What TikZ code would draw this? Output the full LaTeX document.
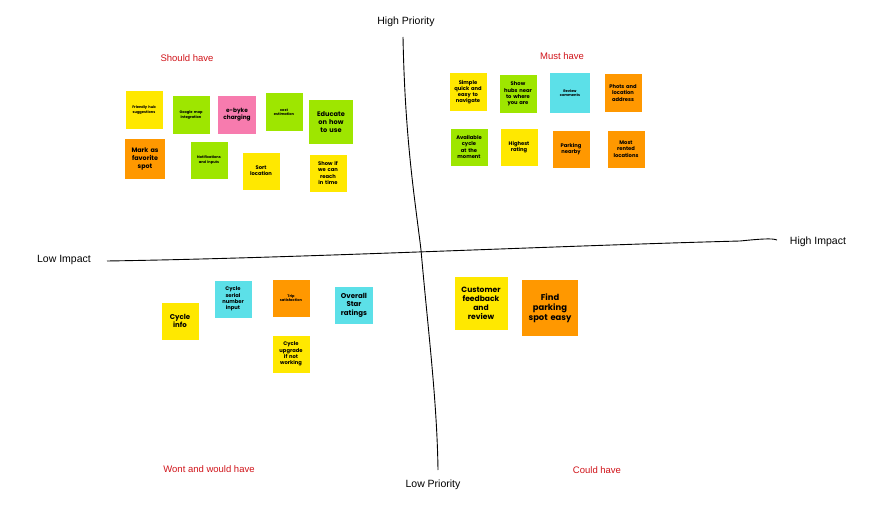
\documentclass[tikz,border=0pt]{standalone}
\usepackage{fontspec}
\usepackage[none]{hyphenat}
\setmainfont{Liberation Sans}
\newfontfamily\notefont{Poppins}
\usetikzlibrary{calc}
\definecolor{noteyellow}{HTML}{FFE800}
\definecolor{notegreen}{HTML}{9EE600}
\definecolor{notepink}{HTML}{F77BAE}
\definecolor{notecyan}{HTML}{5CE0E8}
\definecolor{noteorange}{HTML}{FF9800}
\definecolor{headred}{HTML}{D0141A}
\begin{document}
\begin{tikzpicture}[
	x=1pt, y=-1pt,
	note/.style={fill=#1, minimum size=37pt, inner sep=2pt, align=center,
		text width=28pt, font=\notefont\bfseries\fontsize{5.2}{6.2}\selectfont},
	tiny/.style={font=\notefont\bfseries\fontsize{3.6}{4.4}\selectfont, text width=30pt},
	big/.style={font=\notefont\bfseries\fontsize{7.6}{9}\selectfont, text width=40pt},
	axislabel/.style={font=\fontsize{10.5}{12}\selectfont},
	head/.style={font=\fontsize{9.5}{11}\selectfont, text=headred}]

	\useasboundingbox (0,0) rectangle (884,511);

	% axes
	\draw[line width=0.9pt] (403,37) .. controls (405,140) and (415,200) .. (421,250)
		.. controls (428,330) and (437,400) .. (438,470);
	\draw[line width=0.9pt] (107,261) .. controls (300,258) and (550,246) .. (740,241)
		.. controls (760,239) and (772,238) .. (777,240);

	\node[axislabel] (hp) at (406,22) {High Priority};
	\node[axislabel] (lp) at (433,485) {Low Priority};
	\node[axislabel] (li) at (64,260) {Low Impact};
	\node[axislabel] (hi) at (818,242) {High Impact};

	\node[head] (should) at (187,58) {Should have};
	\node[head] (must) at (562,56) {Must have};
	\node[head] (wont) at (209,469) {Wont and would have};
	\node[head] (could) at (597,470) {Could have};

	% should have
	\node[note=noteyellow, tiny] (friendly) at (144,110) {Friendly hub suggestions};
	\node[note=notegreen, tiny] (google) at (191,115) {Google map integration};
	\node[note=notepink, font=\notefont\bfseries\fontsize{5.8}{7}\selectfont, text width=34pt] (ebyke) at (237,115) {e-byke charging};
	\node[note=notegreen, tiny, text width=24pt] (cost) at (284,112) {cost estimation};
	\node[note=notegreen, minimum size=44pt, font=\notefont\bfseries\fontsize{6.6}{7.8}\selectfont, text width=34pt] (educate) at (331,122) {Educate on how to use};
	\node[note=noteorange, minimum size=40pt, font=\notefont\bfseries\fontsize{6.4}{7.6}\selectfont, text width=32pt] (favorite) at (145,159) {Mark as favorite spot};
	\node[note=notegreen, tiny] (notif) at (209,160) {Notifications and inputs};
	\node[note=noteyellow] (sort) at (261,171) {Sort location};
	\node[note=noteyellow] (reach) at (328,173) {Show if we can reach in time};

	% must have
	\node[note=noteyellow, text width=32pt] (simple) at (468,92) {Simple quick and easy to navigate};
	\node[note=notegreen] (hubs) at (518,94) {Show hubs near to where you are};
	\node[note=notecyan, tiny, minimum size=40pt] (review) at (570,93) {Review comments};
	\node[note=noteorange, text width=32pt] (phots) at (623,93) {Phots and location address};
	\node[note=notegreen] (avail) at (469,147) {Available cycle at the moment};
	\node[note=noteyellow] (rating) at (519,147) {Highest rating};
	\node[note=noteorange] (parking) at (571,149) {Parking nearby};
	\node[note=noteorange] (rented) at (626,149) {Most rented locations};

	% wont and would have
	\node[note=noteyellow, font=\notefont\bfseries\fontsize{7}{8.4}\selectfont] (info) at (180,321) {Cycle info};
	\node[note=notecyan] (serial) at (233,299) {Cycle serial number input};
	\node[note=noteorange, tiny] (trip) at (291,298) {Trip satisfaction};
	\node[note=notecyan, font=\notefont\bfseries\fontsize{7}{8.4}\selectfont, text width=34pt] (star) at (354,305) {Overall Star ratings};
	\node[note=noteyellow] (upgrade) at (291,354) {Cycle upgrade if not working};

	% could have
	\node[note=noteyellow, big, minimum size=53pt] (feedback) at (481,303) {Customer feedback and review};
	\node[note=noteorange, big, minimum size=56pt, text width=46pt, font=\notefont\bfseries\fontsize{8.4}{10}\selectfont] (find) at (550,308) {Find parking spot easy};
\end{tikzpicture}
\end{document}
